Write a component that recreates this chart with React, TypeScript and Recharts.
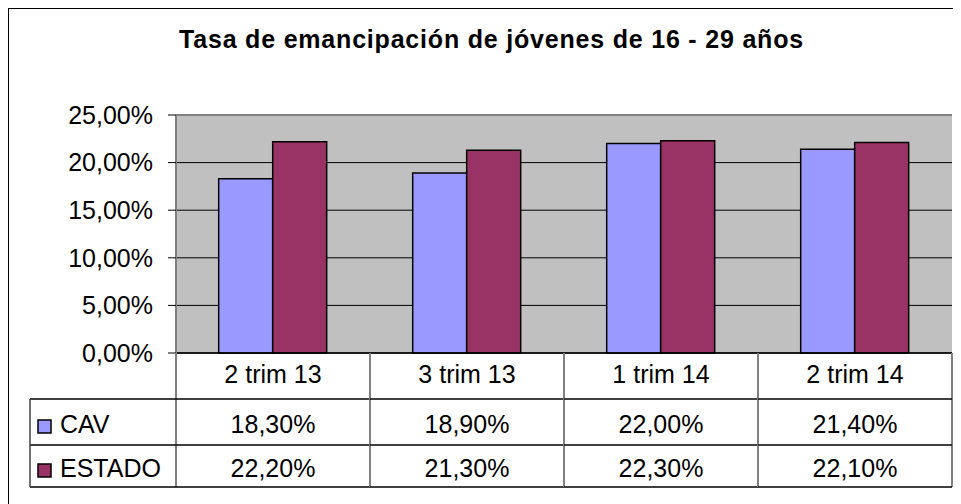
import React from 'react';
import { BarChart, Bar, XAxis, YAxis, CartesianGrid, ReferenceLine } from 'recharts';

const categories = ['2 trim 13', '3 trim 13', '1 trim 14', '2 trim 14'];
const cavValues = [18.3, 18.9, 22.0, 21.4];
const estadoValues = [22.2, 21.3, 22.3, 22.1];
const seriesNames = ['CAV', 'ESTADO'];
const seriesColors = ['#9999FF', '#993366'];
const yTicks = [0, 5, 10, 15, 20, 25];
const title = 'Tasa de emancipación de jóvenes de 16 - 29 años';

const data = categories.map((c, i) => ({ cat: c, CAV: cavValues[i], ESTADO: estadoValues[i] }));
const seriesValues = [cavValues, estadoValues];

const W = 952;
const H = 495;
const LEFT = 167;
const RIGHT = 9;
const TOP = 106;
const XAXIS_H = 134;
const BOTTOM = 17;
const PLOT_W = W - LEFT - RIGHT;
const HALF = PLOT_W / categories.length / 2;
const FONT = '"Liberation Sans", Arial, sans-serif';

const fmtPct = (v: number) => v.toFixed(2).replace('.', ',') + '%';

const TableTick = (props: any) => {
  const { x, y, index, payload } = props;
  const left = x - HALF;
  const right = x + HALF;
  const last = index === categories.length - 1;
  const tableLeft = left - 146;
  const textStyle = { fontSize: 25, fill: '#000', fontFamily: FONT };
  return (
    <g>
      {/* column borders */}
      <line x1={left} y1={y} x2={left} y2={y + 134} stroke="#808080" strokeWidth={2} />
      {last && <line x1={right} y1={y} x2={right} y2={y + 134} stroke="#808080" strokeWidth={2} />}
      {/* row borders */}
      {[46, 92, 134].map((dy) => (
        <line key={dy} x1={index === 0 ? tableLeft : left} y1={y + dy} x2={right} y2={y + dy} stroke="#000" strokeWidth={1.5} />
      ))}
      <text x={x} y={y + 30} textAnchor="middle" style={textStyle}>{payload.value}</text>
      {seriesValues.map((vals, si) => (
        <text key={si} x={x} y={y + 80 + si * 44} textAnchor="middle" style={textStyle}>
          {fmtPct(vals[index])}
        </text>
      ))}
      {index === 0 && (
        <g>
          <line x1={tableLeft} y1={y + 46} x2={tableLeft} y2={y + 134} stroke="#404040" strokeWidth={1.5} />
          {seriesNames.map((name, si) => (
            <g key={name}>
              <rect x={tableLeft + 8} y={y + 67 + si * 44} width={13} height={13} fill={seriesColors[si]} stroke="#000" strokeWidth={1.5} />
              <text x={tableLeft + 30} y={y + 80 + si * 44} style={textStyle}>{name}</text>
            </g>
          ))}
        </g>
      )}
    </g>
  );
};

export default function App() {
  return (
    <div
      style={{
        position: 'relative',
        width: W,
        height: H,
        marginLeft: -1,
        marginTop: -1,
        borderLeft: '2px solid #000',
        borderTop: '2px solid #000',
        fontFamily: FONT,
      }}
    >
      <BarChart
        width={W}
        height={H}
        data={data}
        margin={{ top: TOP, right: RIGHT, left: 0, bottom: BOTTOM }}
        barGap={0}
        barCategoryGap="22%"
        style={{ fontFamily: FONT }}
      >
        <CartesianGrid vertical={false} stroke="#000" strokeWidth={1} fill="#C0C0C0" fillOpacity={1} />
        <XAxis
          dataKey="cat"
          height={XAXIS_H}
          tickLine={false}
          tickSize={0}
          tickMargin={0}
          interval={0}
          axisLine={{ stroke: '#000', strokeWidth: 1.5 }}
          tick={<TableTick />}
        />
        <YAxis
          width={LEFT}
          domain={[0, 25]}
          ticks={yTicks}
          tickFormatter={fmtPct}
          tickSize={8}
          tickMargin={15}
          tickLine={{ stroke: '#000' }}
          axisLine={{ stroke: '#808080', strokeWidth: 2 }}
          tick={{ fill: '#000', fontSize: 25, fontFamily: FONT }}
          interval={0}
        />
        <YAxis
          yAxisId="r"
          orientation="right"
          width={0}
          domain={[0, 25]}
          tick={false}
          tickLine={false}
          axisLine={{ stroke: '#808080', strokeWidth: 2 }}
        />
        <ReferenceLine y={25} stroke="#808080" strokeWidth={2} />
        <Bar dataKey="CAV" fill={seriesColors[0]} stroke="#000" strokeWidth={1.5} isAnimationActive={false} />
        <Bar dataKey="ESTADO" fill={seriesColors[1]} stroke="#000" strokeWidth={1.5} isAnimationActive={false} />
      </BarChart>
      <svg width={W} height={60} style={{ position: 'absolute', left: 0, top: 0, pointerEvents: 'none' }}>
        <text
          x={482.5}
          y={39}
          textAnchor="middle"
          style={{ fontSize: 25, fontWeight: 'bold', fontFamily: FONT, letterSpacing: 0.8 }}
        >
          {title}
        </text>
      </svg>
    </div>
  );
}
